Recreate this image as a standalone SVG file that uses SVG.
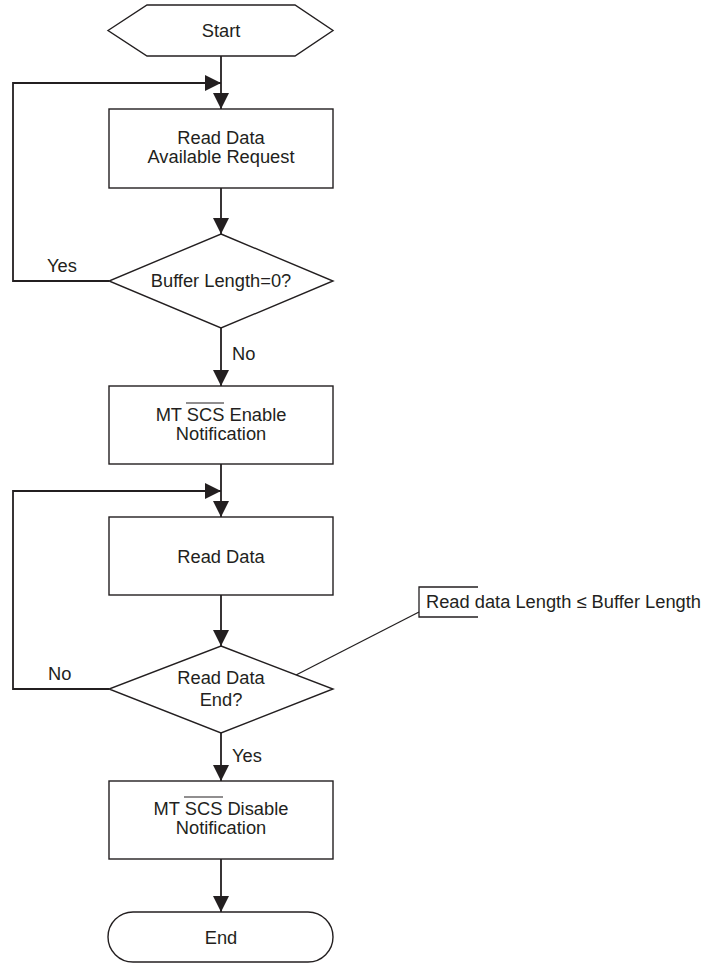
<svg xmlns="http://www.w3.org/2000/svg" width="715" height="964" viewBox="0 0 715 964">
<style>
.shape{fill:#fff;stroke:#231f20;stroke-width:1.4}
.conn{fill:none;stroke:#231f20;stroke-width:1.8}
.thin{fill:none;stroke:#231f20;stroke-width:1.3}
text{font-family:"Liberation Sans",Arial,sans-serif;font-size:18.3px;fill:#231f20}
.c{text-anchor:middle}
</style>
<defs>
<marker id="ah" viewBox="0 0 16 16" refX="16" refY="8" markerWidth="16" markerHeight="16" markerUnits="userSpaceOnUse" orient="auto">
<path d="M0,0 L16,8 L0,16 Z" fill="#231f20"/>
</marker>
</defs>
<rect width="715" height="964" fill="#fff"/>
<g id="connectors">
<line class="conn" x1="221" y1="56" x2="221" y2="109" marker-end="url(#ah)"/>
<line class="conn" x1="221" y1="188" x2="221" y2="234" marker-end="url(#ah)"/>
<line class="conn" x1="221" y1="328" x2="221" y2="386" marker-end="url(#ah)"/>
<line class="conn" x1="221" y1="464" x2="221" y2="517" marker-end="url(#ah)"/>
<line class="conn" x1="221" y1="595" x2="221" y2="646" marker-end="url(#ah)"/>
<line class="conn" x1="221" y1="733" x2="221" y2="781" marker-end="url(#ah)"/>
<line class="conn" x1="221" y1="859" x2="221" y2="912" marker-end="url(#ah)"/>
<path class="conn" d="M109,281 H13 V83 H221" marker-end="url(#ah)"/>
<path class="conn" d="M109,689 H13 V491 H221" marker-end="url(#ah)"/>
<line class="thin" x1="296" y1="675" x2="419" y2="612"/>
<path class="thin" d="M478,587 H419 V617 H478"/>
<text x="47" y="272">Yes</text>
<text x="232" y="360">No</text>
<text x="48" y="680">No</text>
<text x="232" y="762">Yes</text>
<text x="426" y="608">Read data Length ≤ Buffer Length</text>
</g>
<g id="start">
<polygon class="shape" points="108,30.5 147,5 295,5 333,30.5 295,56 147,56"/>
<text class="c" x="221" y="37">Start</text>
</g>
<g id="read-available">
<rect class="shape" x="109" y="109" width="224" height="79"/>
<text class="c" x="221" y="144">Read Data</text>
<text class="c" x="221" y="163">Available Request</text>
</g>
<g id="buffer-check">
<polygon class="shape" points="221,234 333,281 221,328 109,281"/>
<text class="c" x="221" y="287">Buffer Length=0?</text>
</g>
<g id="enable-notification">
<rect class="shape" x="109" y="386" width="224" height="78"/>
<text class="c" x="221" y="421">MT SCS Enable</text>
<line x1="186" y1="403" x2="224" y2="403" stroke="#231f20" stroke-width="1.2"/>
<text class="c" x="221" y="440">Notification</text>
</g>
<g id="read-data">
<rect class="shape" x="109" y="517" width="224" height="78"/>
<text class="c" x="221" y="563">Read Data</text>
</g>
<g id="read-end-check">
<polygon class="shape" points="221,646 333,689 221,733 109,689"/>
<text class="c" x="221" y="684">Read Data</text>
<text class="c" x="221" y="706">End?</text>
</g>
<g id="disable-notification">
<rect class="shape" x="109" y="781" width="224" height="78"/>
<text class="c" x="221" y="815">MT SCS Disable</text>
<line x1="184" y1="797" x2="223" y2="797" stroke="#231f20" stroke-width="1.2"/>
<text class="c" x="221" y="834">Notification</text>
</g>
<g id="end">
<rect class="shape" x="108" y="912" width="225" height="50" rx="25" ry="25"/>
<text class="c" x="221" y="944">End</text>
</g>
</svg>
